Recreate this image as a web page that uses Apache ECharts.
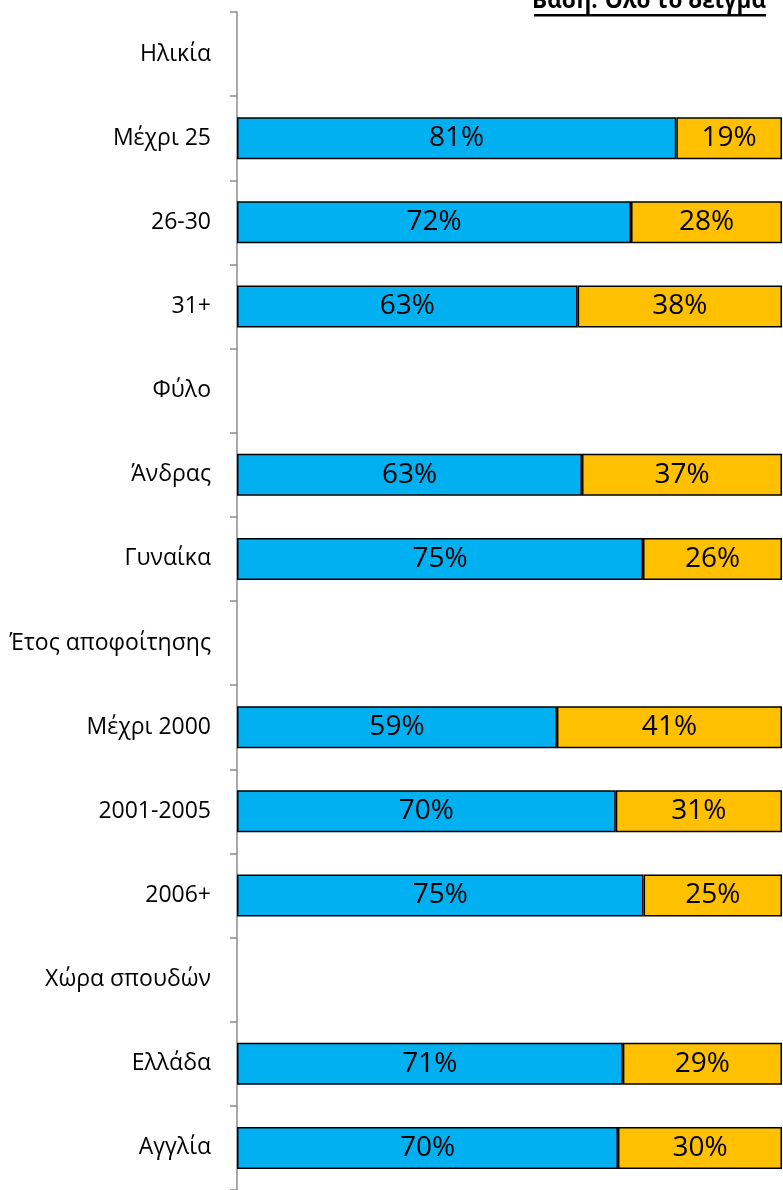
<!DOCTYPE html>
<html><head><meta charset="utf-8">
<script src="https://cdn.jsdelivr.net/npm/echarts@6/dist/echarts.min.js"></script>
<style>html,body{margin:0;padding:0;background:#fff}#c{width:783px;height:1190px}</style>
</head><body><div id="c"></div>
<script>
const categories = ['Ηλικία','Μέχρι 25','26-30','31+','Φύλο','Άνδρας','Γυναίκα','Έτος αποφοίτησης','Μέχρι 2000','2001-2005','2006+','Χώρα σπουδών','Ελλάδα','Αγγλία'];
const seriesA = [null,80.6,72.3,62.5,null,63.3,74.5,null,58.7,69.5,74.6,null,70.8,69.9];
const seriesB = [null,19.4,27.7,37.5,null,36.7,25.5,null,41.3,30.5,25.4,null,29.2,30.1];
const titleText = 'Βάση: Όλο το δείγμα';

const chart = echarts.init(document.getElementById('c'));
const lbl = {show:true, position:'inside', color:'#000', fontFamily:'Open Sans', fontSize:28,
  formatter: p => Math.round(p.value) + '%'};
chart.setOption({
  animation:false,
  grid:{left:237, right:1, top:12, height:1180},
  xAxis:{type:'value', min:0, max:100, show:false},
  yAxis:{type:'category', inverse:true, data:categories,
    axisLine:{show:true, lineStyle:{color:'#8c8c8c', width:1.5}},
    axisTick:{show:true, length:7, lineStyle:{color:'#8c8c8c', width:1.5}},
    axisLabel:{margin:26, color:'#000', fontFamily:'Open Sans', fontSize:23}},
  series:[
    {type:'bar', stack:'s', data:seriesA, barWidth:42,
     itemStyle:{color:'#00B0F0', borderColor:'#000', borderWidth:1.5}, label:lbl},
    {type:'bar', stack:'s', data:seriesB, barWidth:42,
     itemStyle:{color:'#FFC000', borderColor:'#000', borderWidth:1.5}, label:lbl}
  ],
  graphic:[
    {type:'text', right:17, top:-10, style:{text:titleText, font:'bold 22.5px "Open Sans"', fill:'#000'}},
    {type:'rect', shape:{x:534, y:14, width:232, height:2.5}, style:{fill:'#000'}}
  ]
});
</script></body></html>
